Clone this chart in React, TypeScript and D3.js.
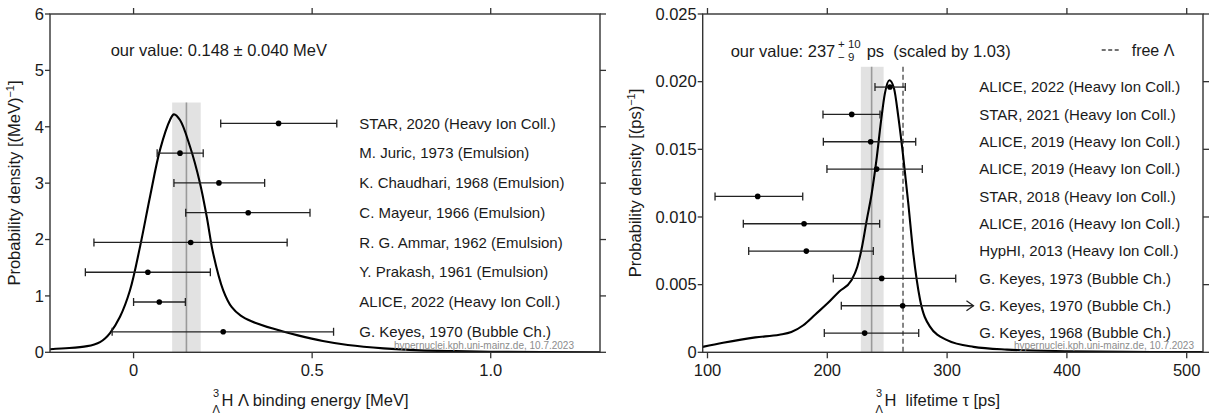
import React from "react";
import * as d3 from "d3";

// ---------- data: left panel (binding energy) ----------
const energyTicks = [0, 0.5, 1.0];
const energyTickLabels = ["0", "0.5", "1.0"];
const energyDensityTicks = [0, 1, 2, 3, 4, 5, 6];
const energyDensityLabels = ["0", "1", "2", "3", "4", "5", "6"];

const energyExperiments = [
  "STAR, 2020 (Heavy Ion Coll.)",
  "M. Juric, 1973 (Emulsion)",
  "K. Chaudhari, 1968 (Emulsion)",
  "C. Mayeur, 1966 (Emulsion)",
  "R. G. Ammar, 1962 (Emulsion)",
  "Y. Prakash, 1961 (Emulsion)",
  "ALICE, 2022 (Heavy Ion Coll.)",
  "G. Keyes, 1970 (Bubble Ch.)",
];
const energyValues = [0.406, 0.13, 0.239, 0.321, 0.16, 0.04, 0.072, 0.251];
const energyErrLow = [0.162, 0.064, 0.126, 0.175, 0.271, 0.175, 0.072, 0.311];
const energyErrHigh = [0.163, 0.065, 0.128, 0.173, 0.27, 0.175, 0.073, 0.309];

const energyCurveX = [
  -0.234, -0.18, -0.13, -0.11, -0.094, -0.08, -0.066, -0.038, -0.01, 0.018, 0.046, 0.074,
  0.102, 0.113, 0.13, 0.158, 0.186, 0.205, 0.223, 0.251, 0.275, 0.3, 0.33, 0.39, 0.46,
  0.53, 0.6, 0.7, 0.8, 0.9, 1.0, 1.306,
];
const energyCurveY = [
  0.055, 0.075, 0.11, 0.14, 0.18, 0.245, 0.34, 0.63, 1.1, 1.87, 2.76, 3.59,
  4.12, 4.22, 4.12, 3.65, 3.0, 2.4, 1.75, 1.1, 0.8, 0.65, 0.55, 0.42, 0.3,
  0.2, 0.13, 0.07, 0.035, 0.02, 0.01, 0.0,
];
const ourEnergy = 0.148;
const ourEnergyErr = 0.04;

// ---------- data: right panel (lifetime) ----------
const lifetimeTicks = [100, 200, 300, 400, 500];
const lifetimeTickLabels = ["100", "200", "300", "400", "500"];
const lifetimeDensityTicks = [0, 0.005, 0.01, 0.015, 0.02, 0.025];
const lifetimeDensityLabels = ["0", "0.005", "0.010", "0.015", "0.020", "0.025"];

const lifetimeExperiments = [
  "ALICE, 2022 (Heavy Ion Coll.)",
  "STAR, 2021 (Heavy Ion Coll.)",
  "ALICE, 2019 (Heavy Ion Coll.)",
  "ALICE, 2019 (Heavy Ion Coll.)",
  "STAR, 2018 (Heavy Ion Coll.)",
  "ALICE, 2016 (Heavy Ion Coll.)",
  "HypHI, 2013 (Heavy Ion Coll.)",
  "G. Keyes, 1973 (Bubble Ch.)",
  "G. Keyes, 1970 (Bubble Ch.)",
  "G. Keyes, 1968 (Bubble Ch.)",
];
const lifetimeValues = [252.3, 220.4, 236.2, 241.2, 141.9, 180.6, 182.5, 245.4, 262.9, 231.2];
const lifetimeErrLow = [12.5, 24, 39.5, 41.5, 35.6, 50.7, 48.1, 40.4, 51.2, 33.7];
const lifetimeErrHigh = [12.8, 23.6, 37.6, 38.1, 37.6, 63.1, 55.9, 61.8, 85, 45.1];
const lifetimeArrowLimit = 322; // bars beyond this are drawn as arrows

const lifetimeCurveX = [
  96, 113, 140, 160, 170, 180, 190, 200, 210, 220, 225, 229, 233, 237, 241, 245, 248,
  251.8, 255.7, 259.3, 263.4, 267.6, 271.8, 277.4, 285.7, 300, 322, 350, 400, 450, 513.6,
];
const lifetimeCurveY = [
  0.0004, 0.0007, 0.0011, 0.0013, 0.0015, 0.002, 0.0028, 0.0036, 0.0045, 0.0053, 0.0063,
  0.0078, 0.0098, 0.0117, 0.0142, 0.0172, 0.0191, 0.0201, 0.0195, 0.0174, 0.01445, 0.011,
  0.0073, 0.0039, 0.0019, 0.0009, 0.0004, 0.0002, 0.00008, 0.00003, 0.00001,
];
const ourLifetime = 237;
const ourLifetimeErrLow = 9;
const ourLifetimeErrHigh = 10;
const freeLambdaLifetime = 263.2;

const FONT = "'Liberation Sans', Arial, Helvetica, sans-serif";
const AXIS = "#333";
const TXT = "#1a1a1a";

type PanelProps = {
  x: d3.ScaleLinear<number, number>;
  y: d3.ScaleLinear<number, number>;
  xTicks: number[];
  xLabels: string[];
  yTicks: number[];
  yLabels: string[];
};

function Frame({ x, y, xTicks, xLabels, yTicks, yLabels }: PanelProps) {
  const [x0, x1] = x.range();
  const [y0, y1] = y.range();
  return (
    <g>
      {xTicks.map((t, i) => (
        <g key={"xt" + i}>
          <line x1={x(t)} x2={x(t)} y1={y0} y2={y0 + 6} stroke={AXIS} strokeWidth={1.3} />
          <line x1={x(t)} x2={x(t)} y1={y1} y2={y1 - 6} stroke={AXIS} strokeWidth={1.3} />
          <text x={x(t)} y={y0 + 24} textAnchor="middle" fontSize={16.5} fill={TXT}>
            {xLabels[i]}
          </text>
        </g>
      ))}
      {yTicks.map((t, i) => (
        <g key={"yt" + i}>
          <line x1={x0} x2={x0 - 5} y1={y(t)} y2={y(t)} stroke={AXIS} strokeWidth={1.3} />
          <line x1={x1} x2={x1 + 6} y1={y(t)} y2={y(t)} stroke={AXIS} strokeWidth={1.3} />
          <text x={x0 - 6} y={y(t)} dy="0.35em" textAnchor="end" fontSize={16.5} fill={TXT}>
            {yLabels[i]}
          </text>
        </g>
      ))}
      <rect x={x0} y={y1} width={x1 - x0} height={y0 - y1} fill="none" stroke={AXIS} strokeWidth={1.4} />
    </g>
  );
}

function ErrorBars({
  x, y, values, lo, hi, rows, labels, labelX, arrowLimit,
}: {
  x: d3.ScaleLinear<number, number>;
  y: d3.ScaleLinear<number, number>;
  values: number[]; lo: number[]; hi: number[]; rows: number[]; labels: string[];
  labelX: number; arrowLimit?: number;
}) {
  return (
    <g>
      {values.map((v, i) => {
        const yy = y(rows[i]);
        const left = x(v - lo[i]);
        const upper = v + hi[i];
        const arrow = arrowLimit !== undefined && upper > arrowLimit;
        const right = x(arrow ? arrowLimit! : upper);
        return (
          <g key={i}>
            <line x1={left} x2={right} y1={yy} y2={yy} stroke="#222" strokeWidth={1.3} />
            <line x1={left} x2={left} y1={yy - 4} y2={yy + 4} stroke="#222" strokeWidth={1.3} />
            {arrow ? (
              <path d={`M${right - 7},${yy - 5} L${right},${yy} L${right - 7},${yy + 5}`} fill="none" stroke="#222" strokeWidth={1.3} />
            ) : (
              <line x1={right} x2={right} y1={yy - 4} y2={yy + 4} stroke="#222" strokeWidth={1.3} />
            )}
            <circle cx={x(v)} cy={yy} r={2.8} fill="#000" />
            <text x={labelX} y={yy} dy="0.35em" fontSize={15} fill={TXT}>
              {labels[i]}
            </text>
          </g>
        );
      })}
    </g>
  );
}

export default function App() {
  // left panel
  const xL = d3.scaleLinear().domain([-0.234, 1.306]).range([50, 600]);
  const yL = d3.scaleLinear().domain([0, 6]).range([352.3, 14]);
  // right panel
  const xR = d3.scaleLinear().domain([96, 513.6]).range([702.7, 1203]);
  const yR = d3.scaleLinear().domain([0, 0.025]).range([352.3, 14]);

  const energyRows = energyValues.map((_, i) => 4.06 - i * 0.528);
  const lifetimeRows = lifetimeValues.map((_, i) => 0.0196 - i * 0.00202);
  const energyBandTop = 4.43;
  const lifetimeBandTop = 0.0211;

  const lineL = d3
    .line<number>()
    .x((_, i) => xL(energyCurveX[i]))
    .y((d) => yL(d))
    .curve(d3.curveCatmullRom.alpha(0.5));
  const lineR = d3
    .line<number>()
    .x((_, i) => xR(lifetimeCurveX[i]))
    .y((d) => yR(d))
    .curve(d3.curveMonotoneX);

  return (
    <svg
      width={1212}
      height={415}
      style={{ position: "absolute", left: 0, top: 0, background: "#fff" }}
      fontFamily={FONT}
    >
      <defs>
        <clipPath id="clipL">
          <rect x={50} y={14} width={550} height={338.3} />
        </clipPath>
        <clipPath id="clipR">
          <rect x={702.7} y={14} width={500.3} height={338.3} />
        </clipPath>
      </defs>

      {/* ---------------- LEFT PANEL ---------------- */}
      <g clipPath="url(#clipL)">
        <rect
          x={xL(ourEnergy - ourEnergyErr)}
          y={yL(energyBandTop)}
          width={xL(ourEnergy + ourEnergyErr) - xL(ourEnergy - ourEnergyErr)}
          height={yL(0) - yL(energyBandTop)}
          fill="#e2e2e2"
        />
        <line x1={xL(ourEnergy)} x2={xL(ourEnergy)} y1={yL(energyBandTop)} y2={yL(0)} stroke="#9a9a9a" strokeWidth={1.6} />
        <path d={lineL(energyCurveY) || ""} fill="none" stroke="#000" strokeWidth={2.1} />
      </g>
      <ErrorBars
        x={xL} y={yL} values={energyValues} lo={energyErrLow} hi={energyErrHigh}
        rows={energyRows} labels={energyExperiments} labelX={359.3}
      />
      <text x={574} y={349} textAnchor="end" fontSize={10} fill="#8c8c8c">
        hypernuclei.kph.uni-mainz.de, 10.7.2023
      </text>
      <text x={110.7} y={56} fontSize={16.5} fill={TXT}>
        our value: 0.148 ± 0.040 MeV
      </text>
      <Frame
        x={xL} y={yL} xTicks={energyTicks} xLabels={energyTickLabels}
        yTicks={energyDensityTicks} yLabels={energyDensityLabels}
      />
      <text transform="translate(20,183) rotate(-90)" textAnchor="middle" fontSize={16.5} fill={TXT}>
        Probability density [(MeV)
        <tspan dy={-6} fontSize={11}>−1</tspan>
        <tspan dy={6}>]</tspan>
      </text>
      {/* x title left */}
      <text x={213} y={397} fontSize={11} fill={TXT}>3</text>
      <text x={212.5} y={413} fontSize={11} fill={TXT}>Λ</text>
      <text x={221.5} y={406} fontSize={16.5} fill={TXT}>H Λ binding energy [MeV]</text>

      {/* ---------------- RIGHT PANEL ---------------- */}
      <g clipPath="url(#clipR)">
        <rect
          x={xR(ourLifetime - ourLifetimeErrLow)}
          y={yR(lifetimeBandTop)}
          width={xR(ourLifetime + ourLifetimeErrHigh) - xR(ourLifetime - ourLifetimeErrLow)}
          height={yR(0) - yR(lifetimeBandTop)}
          fill="#e2e2e2"
        />
        <line x1={xR(ourLifetime)} x2={xR(ourLifetime)} y1={yR(lifetimeBandTop)} y2={yR(0)} stroke="#9a9a9a" strokeWidth={1.6} />
        <line
          x1={xR(freeLambdaLifetime)} x2={xR(freeLambdaLifetime)}
          y1={yR(lifetimeBandTop)} y2={yR(0)}
          stroke="#444" strokeWidth={1.3} strokeDasharray="5,3"
        />
        <path d={lineR(lifetimeCurveY) || ""} fill="none" stroke="#000" strokeWidth={2.1} />
      </g>
      <ErrorBars
        x={xR} y={yR} values={lifetimeValues} lo={lifetimeErrLow} hi={lifetimeErrHigh}
        rows={lifetimeRows} labels={lifetimeExperiments} labelX={979.3} arrowLimit={lifetimeArrowLimit}
      />
      <text x={1194} y={349} textAnchor="end" fontSize={10} fill="#8c8c8c">
        hypernuclei.kph.uni-mainz.de, 10.7.2023
      </text>
      <text x={730.7} y={56.5} fontSize={16.5} fill={TXT}>our value: 237</text>
      <text x={838} y={48} fontSize={11.5} fill={TXT}>+ 10</text>
      <text x={838} y={61} fontSize={11.5} fill={TXT}>− 9</text>
      <text x={866.7} y={56.5} fontSize={16.5} fill={TXT} style={{ whiteSpace: "pre" }}>
        {"ps  (scaled by 1.03)"}
      </text>
      <line x1={1101.7} x2={1119} y1={50} y2={50} stroke="#444" strokeWidth={1.3} strokeDasharray="4,2.5" />
      <text x={1131.7} y={56} fontSize={16} fill={TXT}>free Λ</text>
      <Frame
        x={xR} y={yR} xTicks={lifetimeTicks} xLabels={lifetimeTickLabels}
        yTicks={lifetimeDensityTicks} yLabels={lifetimeDensityLabels}
      />
      <text transform="translate(641,183) rotate(-90)" textAnchor="middle" fontSize={16.5} fill={TXT}>
        Probability density [(ps)
        <tspan dy={-6} fontSize={11}>−1</tspan>
        <tspan dy={6}>]</tspan>
      </text>
      <text x={876} y={397} fontSize={11} fill={TXT}>3</text>
      <text x={875.5} y={413} fontSize={11} fill={TXT}>Λ</text>
      <text x={884.5} y={406} fontSize={16.5} fill={TXT} style={{ whiteSpace: "pre" }}>
        {"H  lifetime τ [ps]"}
      </text>
    </svg>
  );
}
